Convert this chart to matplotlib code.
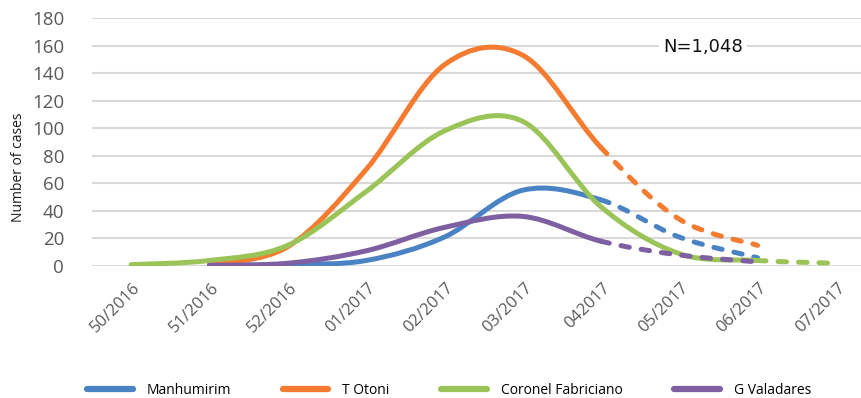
import numpy as np
import matplotlib
matplotlib.use("Agg")
import matplotlib.pyplot as plt
import matplotlib.transforms as mtransforms
from matplotlib.path import Path
from matplotlib.patches import PathPatch
from matplotlib.lines import Line2D

# semana epidemiologica
weeks = ["50/2016", "51/2016", "52/2016", "01/2017", "02/2017",
         "03/2017", "042017", "05/2017", "06/2017", "07/2017"]

manhumirim = [np.nan, 0.5, 1, 4, 21, 55, 48, 21, 6, np.nan]
t_otoni = [np.nan, 1, 14, 70, 146, 153, 86, 34, 15, np.nan]
coronel = [1, 4, 15, 54, 98, 105, 43, 9, 4, 2]
valadares = [np.nan, 0.5, 2, 11, 28, 36, 18, 8, 3, np.nan]

# index where the dashed (projected) part starts
dash_from = {"Manhumirim": 6, "T Otoni": 6, "Coronel Fabriciano": 8, "G Valadares": 6}

series = [("Manhumirim", manhumirim, "#4A83C4"),
          ("T Otoni", t_otoni, "#F47B2F"),
          ("Coronel Fabriciano", coronel, "#9BC458"),
          ("G Valadares", valadares, "#7E5FA2")]

plt.rcParams['font.family'] = ['Open Sans', 'DejaVu Sans']

fig = plt.figure(figsize=(8.62, 3.98), dpi=100)
W, H = 862, 398
# axes from x=92 to 875 px (cut off by the figure), y from 18 to 266 px
ax = fig.add_axes([92 / W, 1 - 266 / H, (875 - 92) / W, (266 - 18) / H])
ax.set_xlim(-0.5, 9.5)
ax.set_ylim(0, 180)


def smooth_segments(x, y):
    # catmull-rom -> bezier, like excel "smoothed line"
    n = len(x)
    segs = []
    for i in range(n - 1):
        p0 = np.array([x[max(i - 1, 0)], y[max(i - 1, 0)]])
        p1 = np.array([x[i], y[i]])
        p2 = np.array([x[i + 1], y[i + 1]])
        p3 = np.array([x[min(i + 2, n - 1)], y[min(i + 2, n - 1)]])
        c1 = p1 + (p2 - p0) / 6
        c2 = p2 - (p3 - p1) / 6
        segs.append([p1, c1, c2, p2])
    return segs


def make_path(segs):
    verts = [segs[0][0]]
    codes = [Path.MOVETO]
    for s in segs:
        verts += [s[1], s[2], s[3]]
        codes += [Path.CURVE4] * 3
    return Path(verts, codes)


for name, vals, col in series:
    vals = np.array(vals, dtype=float)
    idx = np.where(~np.isnan(vals))[0]
    xs = idx.astype(float)
    ys = vals[idx]
    segs = smooth_segments(xs, ys)
    k = dash_from[name] - idx[0]
    solid = make_path(segs[:k])
    dashed = make_path(segs[k:])
    ax.add_patch(PathPatch(solid, fill=False, edgecolor=col, lw=3.6,
                           capstyle='round', joinstyle='round', zorder=3))
    ax.add_patch(PathPatch(dashed, fill=False, edgecolor=col, lw=3.6,
                           capstyle='round', linestyle=(0, (1.7, 2.4)), zorder=3))

ax.set_yticks(range(0, 181, 20))
ax.yaxis.grid(True, color="#D9D9D9", lw=1.5)
ax.set_axisbelow(True)
for sp in ax.spines.values():
    sp.set_visible(False)
ax.tick_params(axis='y', length=0, pad=20, labelsize=13.5, labelcolor="#595959")
ax.tick_params(axis='x', length=0, pad=14, labelsize=12, labelcolor="#595959")
ax.set_xticks(range(len(weeks)))
ax.set_xticklabels(weeks, rotation=45, ha='right', va='center', rotation_mode='anchor')
off = mtransforms.ScaledTranslation(7 / 100, 0, fig.dpi_scale_trans)
for lab in ax.get_xticklabels():
    lab.set_transform(lab.get_transform() + off)

fig.text(19 / W, 1 - 167 / H, "Number of cases", rotation=90, fontsize=10,
         ha='center', va='center', color="#1a1a1a")

fig.text(663 / W, 1 - 47 / H, "N=1,048", fontsize=13, family='DejaVu Sans',
         ha='left', va='center', color="#111111",
         bbox=dict(facecolor='white', edgecolor='none', pad=3))

handles = [Line2D([], [], color=c, lw=4.5, solid_capstyle='round') for _, _, c in series]
fig.legend(handles, [s[0] for s in series], loc='center', ncol=4,
           bbox_to_anchor=(449 / W, 1 - 390 / H), frameon=False, fontsize=10,
           handlelength=3.3, columnspacing=3.7, handletextpad=1.0)

plt.savefig("out.png", dpi=100)
